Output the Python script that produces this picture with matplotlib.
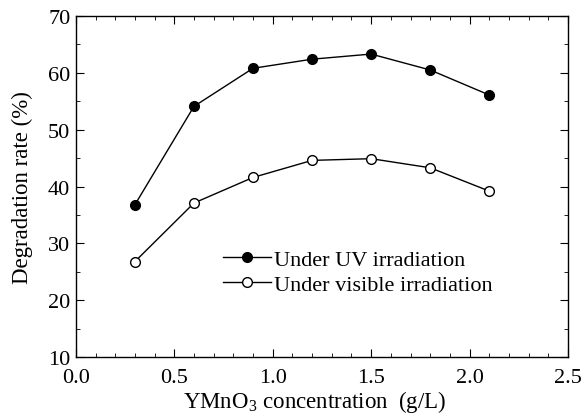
import matplotlib
matplotlib.use("Agg")
import matplotlib.pyplot as plt
from matplotlib.ticker import MultipleLocator

plt.rcParams['font.family'] = ['Liberation Serif', 'DejaVu Serif']
plt.rcParams['mathtext.fontset'] = 'custom'
plt.rcParams['mathtext.rm'] = 'Liberation Serif'

# data
conc = [0.3, 0.6, 0.9, 1.2, 1.5, 1.8, 2.1]
uv_rate = [36.8, 54.1, 60.8, 62.4, 63.3, 60.5, 56.1]
vis_rate = [26.8, 37.1, 41.6, 44.6, 44.9, 43.3, 39.2]

fig = plt.figure(figsize=(5.88, 4.14), dpi=100)
ax = fig.add_axes([0.129, 0.135, 0.837, 0.824])

ax.plot(conc, uv_rate, '-o', color='black', lw=1, ms=7,
        mfc='black', mec='black', label='Under UV irradiation')
ax.plot(conc, vis_rate, '-o', color='black', lw=1, ms=7,
        mfc='white', mec='black', label='Under visible irradiation')

ax.set_xlim(0, 2.5)
ax.set_ylim(10, 70)
ax.xaxis.set_major_locator(MultipleLocator(0.5))
ax.xaxis.set_minor_locator(MultipleLocator(0.1))
ax.yaxis.set_major_locator(MultipleLocator(10))
ax.yaxis.set_minor_locator(MultipleLocator(5))
ax.xaxis.set_major_formatter(matplotlib.ticker.FormatStrFormatter('%.1f'))
ax.tick_params(which='both', direction='in', top=True, right=True,
               labelsize=16, pad=4)
ax.tick_params(axis='x', which='major', pad=8)
ax.tick_params(which='major', length=6)
ax.tick_params(which='minor', length=3)
for s in ax.spines.values():
    s.set_linewidth(1)

ax.set_xlabel(r'YMnO$_\mathrm{3}$ concentration  (g/L)', fontsize=16.5)
ax.set_ylabel('Degradation rate (%)', fontsize=16.5)
ax.xaxis.set_label_coords(0.485, -0.09)
ax.yaxis.set_label_coords(-0.088, 0.5)

ax.legend(loc='center left', bbox_to_anchor=(0.28, 0.25), frameon=False,
          fontsize=16, handlelength=2.2, handletextpad=0.1, labelspacing=0.2,
          borderaxespad=0)

fig.savefig('out.png', dpi=100)
